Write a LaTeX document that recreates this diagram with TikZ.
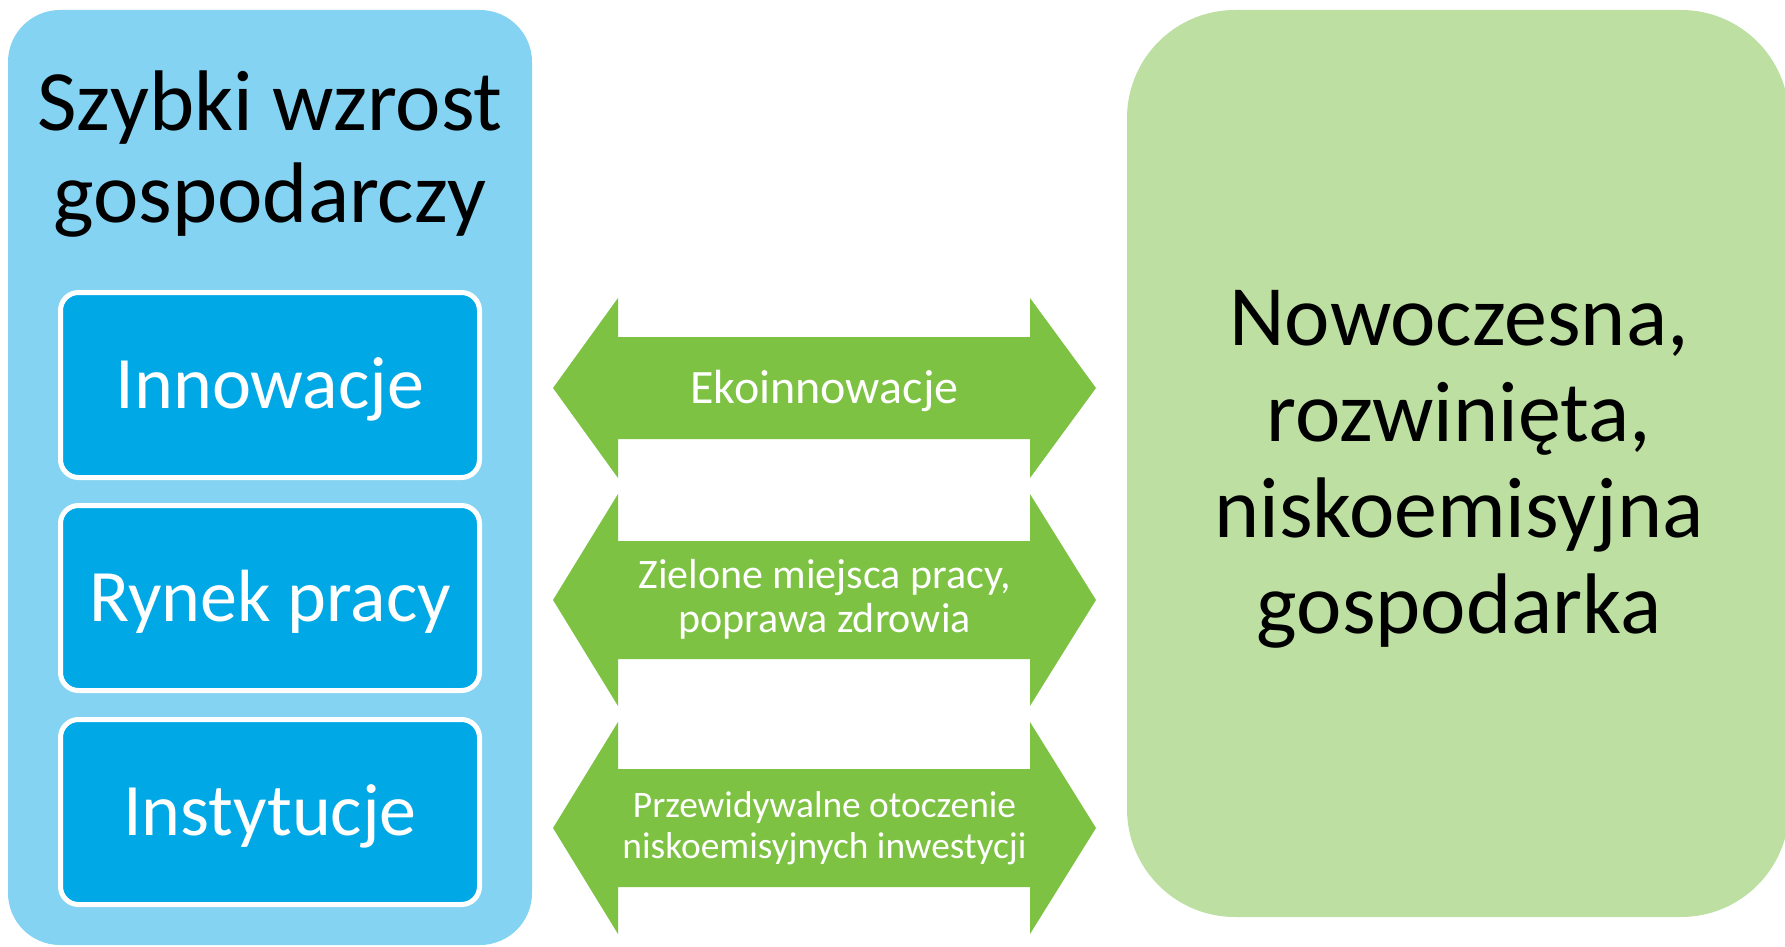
\documentclass[tikz,border=0pt]{standalone}
\usepackage{fontspec}
\setmainfont{Carlito}
\definecolor{lblue}{HTML}{84D3F2}
\definecolor{dblue}{HTML}{00A9E6}
\definecolor{agreen}{HTML}{7DC242}
\definecolor{lgreen}{HTML}{BDE0A2}
\begin{document}
\begin{tikzpicture}[x=0.5pt,y=-0.5pt,
  inbox/.style={draw=white, line width=2.5pt, fill=dblue, rounded corners=9pt,
    minimum width=209.5pt, minimum height=92.5pt, inner sep=0pt, text=white,
    font=\fontsize{37}{44}\selectfont, text height=23.4pt, text depth=0pt},
  arrowfill/.style={fill=agreen},
  atext/.style={text=white, align=center, inner sep=0pt, anchor=base},
  bigtext/.style={text=black, align=center, inner sep=0pt, anchor=base}
]
\useasboundingbox (0,0) rectangle (1785,947);
\clip (0,0) rectangle (1785,947);
% big boxes
\node[fill=lblue, rounded corners=26pt, minimum width=262pt, minimum height=467.5pt, inner sep=0pt] (lbox) at (270,477.5) {};
\node[fill=lgreen, rounded corners=54pt, minimum width=331pt, minimum height=453.5pt, inner sep=0pt] (gbox) at (1458,463.5) {};
% inner boxes
\node[inbox] (innow) at (270,385) {Innowacje};
\node[inbox] (rynek) at (270,598) {Rynek pracy};
\node[inbox] (instyt) at (270,812) {Instytucje};
% title (anchor = baseline of last line)
\node[bigtext, font=\fontsize{43}{46}\selectfont] (title) at (270,222) {Szybki wzrost\\gospodarczy};
% green text
\node[bigtext, font=\fontsize{43}{48}\selectfont] (gtext) at (1459,633) {Nowoczesna,\\rozwinięta,\\niskoemisyjna\\gospodarka};
% double arrows
\fill[arrowfill] (553,388) -- (618,298) -- (618,337) -- (1030,337) -- (1030,298) -- (1096,388)
  -- (1030,478) -- (1030,439) -- (618,439) -- (618,478) -- cycle;
\fill[arrowfill] (553,600) -- (618,494) -- (618,541) -- (1030,541) -- (1030,494) -- (1096,600)
  -- (1030,706) -- (1030,659) -- (618,659) -- (618,706) -- cycle;
\fill[arrowfill] (553,828) -- (618,722) -- (618,769) -- (1030,769) -- (1030,722) -- (1096,828)
  -- (1030,934) -- (1030,887) -- (618,887) -- (618,934) -- cycle;
% arrow labels
\node[atext, font=\fontsize{24}{28}\selectfont] (a1) at (824.5,403) {Ekoinnowacje};
\node[atext, font=\fontsize{21}{22}\selectfont] (a2) at (824.5,632) {Zielone miejsca pracy,\\poprawa zdrowia};
\node[atext, font=\fontsize{18.7}{20.5}\selectfont] (a3) at (824.5,858) {Przewidywalne otoczenie\\niskoemisyjnych inwestycji};
\end{tikzpicture}
\end{document}
